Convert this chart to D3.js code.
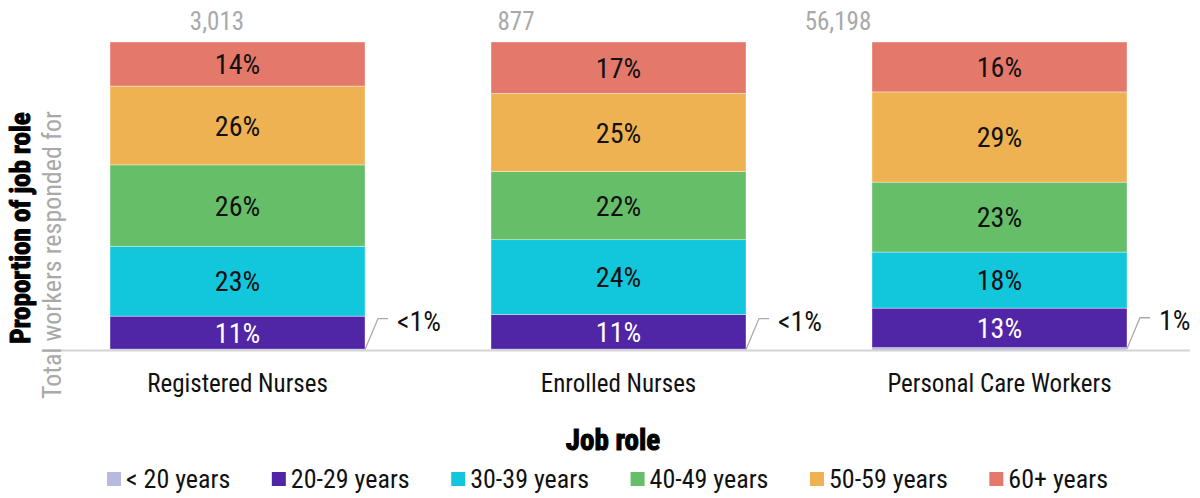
<!DOCTYPE html>
<html>
<head>
<meta charset="utf-8">
<script src="https://cdn.jsdelivr.net/npm/d3@7"></script>
<style>
  body { margin: 0; background: #fff; }
  svg { font-family: "Liberation Sans Narrow", "Arial Narrow", "Roboto Condensed", sans-serif; }
</style>
</head>
<body>
<svg id="chart"></svg>
<script>
// data
const roles = ["Registered Nurses", "Enrolled Nurses", "Personal Care Workers"];
const totals = ["3,013", "877", "56,198"];
const ageGroups = ["< 20 years", "20-29 years", "30-39 years", "40-49 years", "50-59 years", "60+ years"];
const under20 = [0.3, 0.3, 0.8];
const age20s = [10.7, 11.2, 12.8];
const age30s = [22.7, 24.3, 18.2];
const age40s = [26.4, 22.1, 22.7];
const age50s = [25.6, 25.4, 29.3];
const age60s = [14.3, 16.7, 16.2];
const smallLabels = ["<1%", "<1%", "1%"];

const colors = ["#b7b9df", "#5126a6", "#12c6db", "#66be69", "#eeb253", "#e4796b"];

const series = [under20, age20s, age30s, age40s, age50s, age60s];
const table = roles.map((r, i) => {
  const row = { role: r, total: totals[i] };
  ageGroups.forEach((g, k) => { row[g] = series[k][i]; });
  return row;
});

const W = 1200, H = 498;
const svg = d3.select("#chart").attr("width", W).attr("height", H);

// scales
const x = d3.scaleBand().domain(roles).range([47, 1190])
  .paddingInner(0.3307).paddingOuter(0.1654);
const y = d3.scaleLinear().domain([0, 100]).range([350, 42]);

const stacked = d3.stack().keys(ageGroups)(table);

const g = svg.append("g");
g.selectAll("g.layer")
  .data(stacked)
  .join("g")
  .attr("class", "layer")
  .attr("fill", (d, i) => colors[i])
  .selectAll("rect")
  .data(d => d)
  .join("rect")
  .attr("x", d => x(d.data.role))
  .attr("width", x.bandwidth())
  .attr("y", d => y(d[1]))
  .attr("height", d => y(d[0]) - y(d[1]))
  .attr("stroke", "#fff")
  .attr("stroke-opacity", 0.6)
  .attr("stroke-width", 0.6);

// segment labels (skip < 20)
stacked.forEach((layer, k) => {
  if (k === 0) return;
  g.selectAll(null)
    .data(layer)
    .join("text")
    .attr("x", d => x(d.data.role) + x.bandwidth() / 2)
    .attr("y", d => (y(d[0]) + y(d[1])) / 2)
    .attr("dy", "0.36em")
    .attr("text-anchor", "middle")
    .attr("font-size", 28)
    .attr("fill", k === 1 ? "#fff" : "#111")
    .text(d => Math.round(d[1] - d[0]) + "%");
});

// baseline
svg.append("line")
  .attr("x1", 47).attr("x2", 1190)
  .attr("y1", y(0) + 0.5).attr("y2", y(0) + 0.5)
  .attr("stroke", "#d4d4d4").attr("stroke-width", 2);

// leader lines for < 20
roles.forEach((r, i) => {
  const x0 = x(r) + x.bandwidth();
  const y0 = y(under20[i] / 2);
  svg.append("polyline")
    .attr("points", `${x0},${y0} ${x0 + 13},${y0 - 31} ${x0 + 23},${y0 - 31}`)
    .attr("fill", "none")
    .attr("stroke", "#aaa")
    .attr("stroke-width", 1.3);
  svg.append("text")
    .attr("x", x0 + 32)
    .attr("y", y0 - 29)
    .attr("dy", "0.36em")
    .attr("font-size", 28)
    .attr("fill", "#111")
    .text(smallLabels[i]);
});

// totals above bars
const totalShift = [107, 25, -34];
svg.selectAll("text.total")
  .data(table)
  .join("text")
  .attr("class", "total")
  .attr("x", (d, i) => x(d.role) + totalShift[i])
  .attr("y", 30)
  .attr("text-anchor", "middle")
  .attr("font-size", 25)
  .attr("fill", "#a9a9a9")
  .text(d => d.total);

// category axis
const xAxis = d3.axisBottom(x).tickSize(0).tickPadding(0);
const gx = svg.append("g").attr("transform", `translate(0,${y(0)})`).call(xAxis);
gx.select(".domain").remove();
gx.selectAll("text")
  .attr("y", 33)
  .attr("dy", "0.36em")
  .attr("font-size", 25)
  .attr("font-family", "\"Liberation Sans Narrow\", \"Arial Narrow\", \"Roboto Condensed\", sans-serif")
  .attr("fill", "#111");

// axis titles
svg.append("text")
  .attr("x", 613).attr("y", 450)
  .attr("text-anchor", "middle")
  .attr("font-size", 29)
  .attr("font-weight", "bold")
  .attr("stroke", "#000").attr("stroke-width", 1)
  .attr("fill", "#000")
  .text("Job role");

svg.append("text")
  .attr("transform", "translate(30,228) rotate(-90)")
  .attr("text-anchor", "middle")
  .attr("font-size", 27)
  .attr("font-weight", "bold")
  .attr("stroke", "#000").attr("stroke-width", 1)
  .attr("fill", "#000")
  .text("Proportion of job role");

svg.append("text")
  .attr("transform", "translate(61,255) rotate(-90)")
  .attr("text-anchor", "middle")
  .attr("font-size", 26)
  .attr("fill", "#a9a9a9")
  .text("Total workers responded for");

// legend
const legend = svg.append("g");
const items = legend.selectAll("g")
  .data(ageGroups)
  .join("g");
items.append("rect")
  .attr("width", 14).attr("height", 14)
  .attr("y", -7)
  .attr("fill", (d, i) => colors[i]);
items.append("text")
  .attr("x", 19)
  .attr("dy", "0.36em")
  .attr("font-size", 26)
  .attr("fill", "#111")
  .text(d => d);
const widths = [];
items.each(function () { widths.push(19 + this.querySelector("text").getComputedTextLength()); });
const span = 1108 - 107;
const gap = (span - d3.sum(widths)) / (widths.length - 1);
let cx = 107;
items.attr("transform", (d, i) => {
  const t = `translate(${cx},479)`;
  cx += widths[i] + gap;
  return t;
});
</script>
</body>
</html>
